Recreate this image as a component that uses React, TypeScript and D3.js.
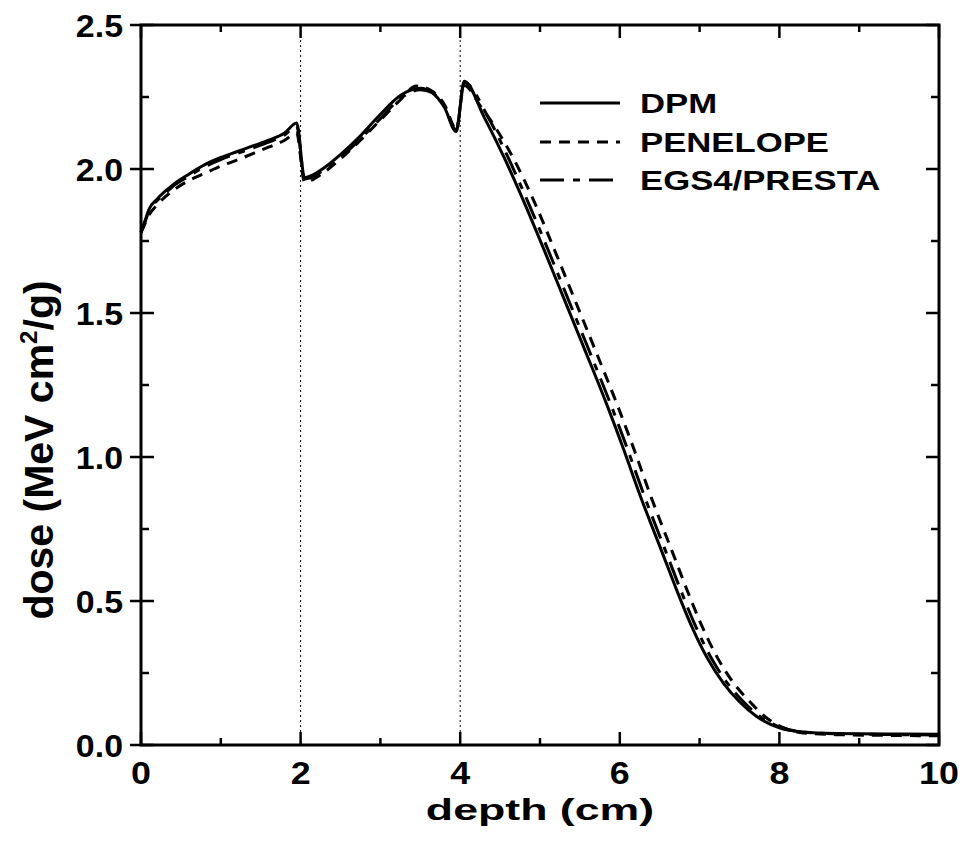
import React from "react";
import * as d3 from "d3";

const dpmX = [0, 0.05, 0.1, 0.2, 0.3, 0.4, 0.6, 0.8, 1.0, 1.2, 1.4, 1.6, 1.8, 1.95, 2.05, 2.3, 2.5, 2.75, 3.0, 3.25, 3.5, 3.65, 3.8, 3.95, 4.05, 4.3, 4.55, 4.8, 5.05, 5.3, 5.55, 5.84, 6.05, 6.25, 6.55, 6.71, 6.88, 7.1, 7.3, 7.5, 7.72, 8.0, 8.3, 8.7, 9.5, 10];
const dpmY = [1.78, 1.82, 1.86, 1.895, 1.922, 1.945, 1.982, 2.015, 2.04, 2.06, 2.08, 2.10, 2.125, 2.16, 1.97, 2.005, 2.05, 2.115, 2.19, 2.255, 2.28, 2.265, 2.215, 2.13, 2.305, 2.18, 2.04, 1.885, 1.72, 1.55, 1.38, 1.18, 1.025, 0.87, 0.655, 0.54, 0.425, 0.30, 0.214, 0.15, 0.098, 0.06, 0.045, 0.04, 0.038, 0.037];

const penX = [0, 0.05, 0.1, 0.2, 0.4, 0.6, 0.8, 1.0, 1.24, 1.5, 1.8, 1.95, 2.05, 2.3, 2.5, 2.75, 3.0, 3.25, 3.45, 3.65, 3.8, 3.95, 4.05, 4.25, 4.45, 4.68, 4.93, 5.18, 5.43, 5.68, 5.97, 6.18, 6.38, 6.68, 6.84, 7.01, 7.23, 7.43, 7.63, 7.82, 8.05, 8.3, 8.7, 9.5, 10];
const penY = [1.78, 1.81, 1.84, 1.875, 1.925, 1.96, 1.985, 2.01, 2.035, 2.065, 2.10, 2.125, 1.955, 1.99, 2.035, 2.1, 2.17, 2.24, 2.288, 2.27, 2.225, 2.14, 2.29, 2.22, 2.14, 2.03, 1.885, 1.72, 1.55, 1.38, 1.18, 1.025, 0.87, 0.655, 0.54, 0.425, 0.30, 0.214, 0.15, 0.098, 0.06, 0.042, 0.036, 0.033, 0.032];

const egsX = [0, 0.05, 0.1, 0.2, 0.3, 0.4, 0.6, 0.8, 1.0, 1.2, 1.4, 1.6, 1.8, 1.95, 2.05, 2.3, 2.5, 2.75, 3.0, 3.25, 3.5, 3.65, 3.8, 3.95, 4.05, 4.35, 4.6, 4.85, 5.1, 5.35, 5.6, 5.89, 6.1, 6.3, 6.6, 6.76, 6.93, 7.15, 7.35, 7.55, 7.76, 8.03, 8.3, 8.7, 9.5, 10];
const egsY = [1.78, 1.815, 1.855, 1.89, 1.915, 1.94, 1.975, 2.008, 2.033, 2.053, 2.073, 2.093, 2.118, 2.15, 1.965, 1.998, 2.04, 2.105, 2.175, 2.245, 2.275, 2.265, 2.22, 2.135, 2.30, 2.18, 2.04, 1.885, 1.72, 1.55, 1.38, 1.18, 1.025, 0.87, 0.655, 0.54, 0.425, 0.30, 0.214, 0.15, 0.098, 0.06, 0.045, 0.039, 0.036, 0.035];

const seriesNames = ["DPM", "PENELOPE", "EGS4/PRESTA"];
const xTicks = [0, 2, 4, 6, 8, 10];
const yTicks = [0, 0.5, 1, 1.5, 2, 2.5];
const boundaries = [2, 4];

const W = 961, H = 841;
const L = 141, R = 939, T = 25, B = 745;
const FONT = "'Liberation Sans', Arial, Helvetica, sans-serif";

function SText(props: { x: number; y: number; size: number; sx?: number; anchor?: string; children: React.ReactNode }) {
  const { x, y, size, sx = 1, anchor = "start", children } = props;
  return (
    <text transform={`translate(${x},${y}) scale(${sx},1)`} textAnchor={anchor} fontSize={size} fontWeight="bold">
      {children}
    </text>
  );
}

export default function App() {
  const x = d3.scaleLinear().domain([0, 10]).range([L, R]);
  const y = d3.scaleLinear().domain([0, 2.5]).range([B, T]);
  const line = d3
    .line<[number, number]>()
    .x((d) => x(d[0]))
    .y((d) => y(d[1]))
    .curve(d3.curveMonotoneX);

  const series = [
    { name: seriesNames[0], xs: dpmX, ys: dpmY, dash: "none" },
    { name: seriesNames[1], xs: penX, ys: penY, dash: "11,8" },
    { name: seriesNames[2], xs: egsX, ys: egsY, dash: "24,9,7,9" },
  ];

  const xMinor = d3.range(0, 10.001, 1);
  const yMinor = d3.range(0, 2.5001, 0.25);
  const isMajor = (v: number, step: number) => Math.abs(v / step - Math.round(v / step)) < 1e-6;

  return (
    <svg width={W} height={H} style={{ position: "absolute", left: 0, top: 0, background: "#fff" }} fontFamily={FONT}>
      <rect x={0} y={0} width={W} height={H} fill="#fff" />
      {boundaries.map((b) => (
        <line key={b} x1={x(b)} x2={x(b)} y1={T} y2={B} stroke="#000" strokeWidth={1} strokeDasharray="2,3" />
      ))}
      {series.map((s) => (
        <path
          key={s.name}
          d={line(s.xs.map((v, i) => [v, s.ys[i]] as [number, number])) || ""}
          fill="none"
          stroke="#000"
          strokeWidth={3}
          strokeDasharray={s.dash}
          strokeLinejoin="miter"
        />
      ))}
      {xMinor.map((v) => {
        const len = isMajor(v, 2) ? 13 : 7;
        return (
          <g key={"xt" + v}>
            <line x1={x(v)} x2={x(v)} y1={B} y2={B - len} stroke="#000" strokeWidth={2.5} />
            <line x1={x(v)} x2={x(v)} y1={T} y2={T + len} stroke="#000" strokeWidth={2.5} />
          </g>
        );
      })}
      {yMinor.map((v) => {
        const maj = isMajor(v, 0.5);
        const len = maj ? 13 : 8;
        return (
          <g key={"yt" + v}>
            <line x1={maj ? L - 11 : L} x2={L + len} y1={y(v)} y2={y(v)} stroke="#000" strokeWidth={2.5} />
            <line x1={R} x2={R - len} y1={y(v)} y2={y(v)} stroke="#000" strokeWidth={2.5} />
          </g>
        );
      })}
      <rect x={L} y={T} width={R - L} height={B - T} fill="none" stroke="#000" strokeWidth={3} />
      {xTicks.map((v) => (
        <SText key={"xl" + v} x={x(v)} y={784} size={32} sx={1.12} anchor="middle">
          {v}
        </SText>
      ))}
      {yTicks.map((v) => (
        <SText key={"yl" + v} x={123} y={y(v) + 12} size={32} sx={1.06} anchor="end">
          {v.toFixed(1)}
        </SText>
      ))}
      <SText x={x(5)} y={820} size={30} sx={1.49} anchor="middle">
        depth (cm)
      </SText>
      <text transform={`translate(53, 450) rotate(-90)`} textAnchor="middle" fontSize={41} fontWeight="bold">
        dose (MeV cm<tspan dy={-16} fontSize={24}>2</tspan>
        <tspan dy={16}>/g)</tspan>
      </text>
      {series.map((s, i) => {
        const ly = [103, 142, 180][i];
        return (
          <g key={"lg" + s.name}>
            <line x1={540} x2={620} y1={ly} y2={ly} stroke="#000" strokeWidth={3} strokeDasharray={s.dash} />
            <SText x={640} y={ly + 10} size={28} sx={1.24}>
              {s.name}
            </SText>
          </g>
        );
      })}
    </svg>
  );
}
